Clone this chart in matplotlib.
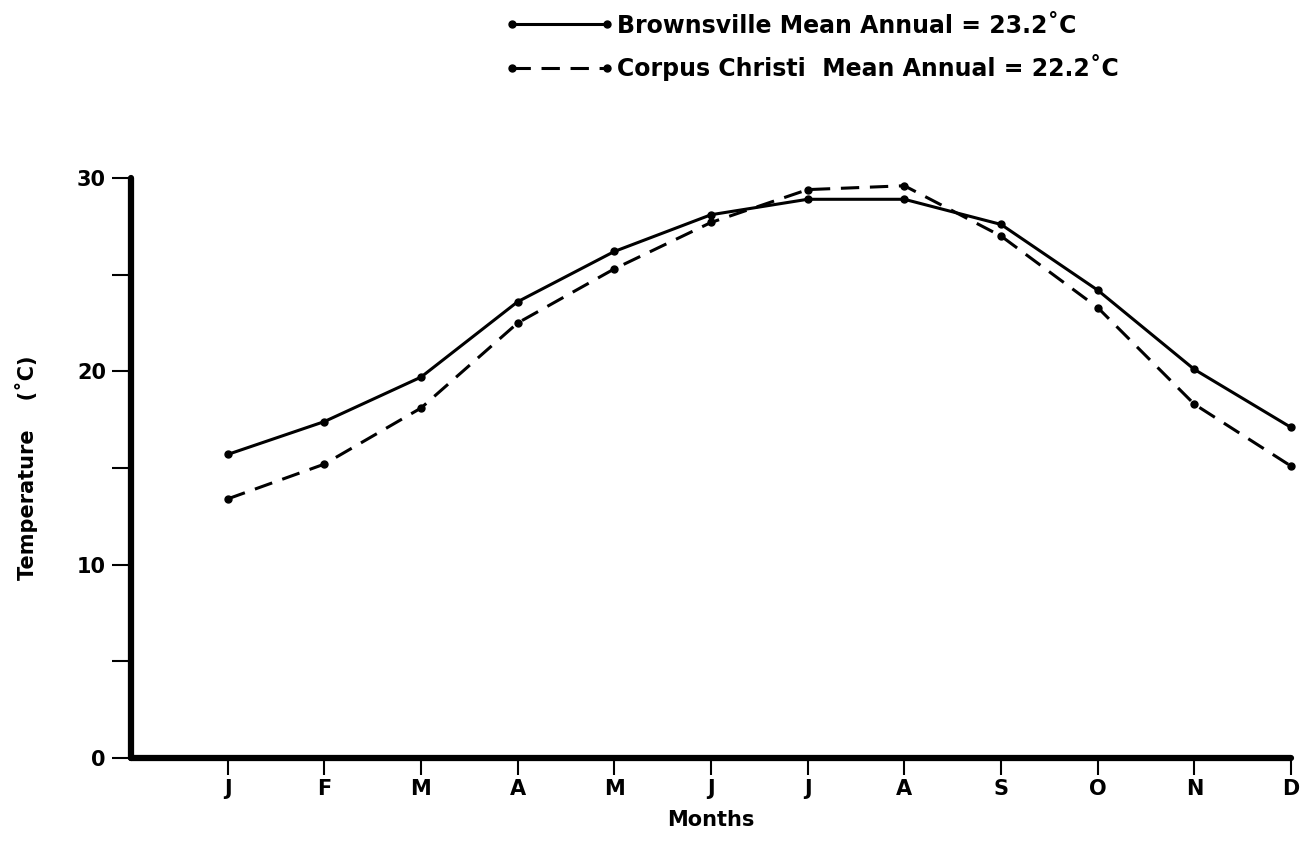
import numpy as np
import matplotlib.pyplot as plt
from matplotlib.ticker import MultipleLocator

# monthly mean temperatures (deg C)
months = ['J', 'F', 'M', 'A', 'M', 'J', 'J', 'A', 'S', 'O', 'N', 'D']
brownsville = [15.7, 17.4, 19.7, 23.6, 26.2, 28.1, 28.9, 28.9, 27.6, 24.2, 20.1, 17.1]
corpus_christi = [13.4, 15.2, 18.1, 22.5, 25.3, 27.7, 29.4, 29.6, 27.0, 23.3, 18.3, 15.1]
labels = ['Brownsville Mean Annual = 23.2\u02daC',
          'Corpus Christi  Mean Annual = 22.2\u02daC']

plt.rcParams['font.family'] = ['DejaVu Sans']
plt.rcParams['font.weight'] = 'bold'
plt.rcParams['axes.labelweight'] = 'bold'
fs = 15

fig = plt.figure(figsize=(13.12, 8.65), dpi=100)
ax = fig.add_axes([0.0998, 0.1237, 0.8842, 0.6705])

x = np.arange(1, len(months) + 1)
ax.plot(x, brownsville, color='black', lw=2.2, marker='o', ms=5,
        clip_on=False, label=labels[0])
ax.plot(x, corpus_christi, color='black', lw=2.2, marker='o', ms=5,
        dashes=(6, 3.5), clip_on=False, label=labels[1])

ax.set_xlim(0, 12)
ax.set_ylim(0, 30)
ax.set_xticks(x)
ax.set_xticklabels(months, fontsize=fs)
ax.yaxis.set_major_locator(MultipleLocator(10))
ax.yaxis.set_minor_locator(MultipleLocator(5))
ax.tick_params(axis='y', which='both', length=14, width=1.5, labelsize=fs, pad=4)
ax.tick_params(axis='x', length=12, width=1.5, pad=3)

for side in ['top', 'right']:
    ax.spines[side].set_visible(False)
for side in ['left', 'bottom']:
    ax.spines[side].set_linewidth(4.5)
    ax.spines[side].set_capstyle('round')

ax.set_xlabel('Months', fontsize=fs, labelpad=8)
ax.set_ylabel('Temperature    (\u02daC)', fontsize=fs, labelpad=28)

ax.legend(loc='upper left', bbox_to_anchor=(0.3746, 1.0),
          bbox_transform=fig.transFigure, frameon=False, fontsize=17,
          handlelength=4.63, handletextpad=0.1, labelspacing=0.7,
          numpoints=2, borderaxespad=0.18)

fig.savefig('out.png', dpi=100)
